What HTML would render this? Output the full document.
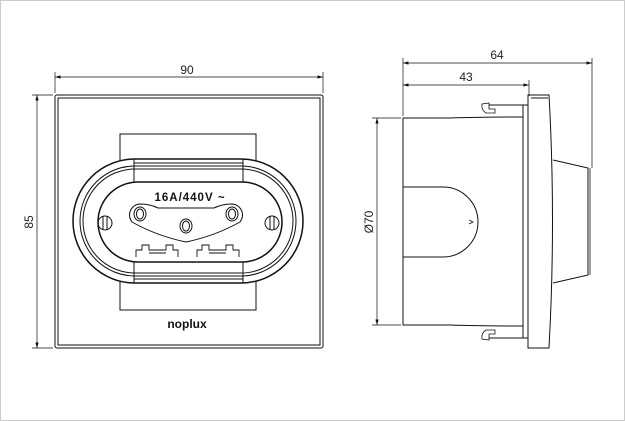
<!DOCTYPE html>
<html><head><style>body{margin:0;background:#fff}svg{display:block}</style></head><body>
<svg width="625" height="421" viewBox="0 0 625 421" xmlns="http://www.w3.org/2000/svg" fill="none" stroke="#111" stroke-width="1">
<defs><marker id="a" viewBox="0 0 10 6" refX="10" refY="3" markerWidth="8" markerHeight="5" orient="auto-start-reverse"><path d="M0,0L10,3L0,6z" fill="#111" stroke="none"/></marker></defs>
<rect x="0.5" y="0.5" width="624" height="420" stroke="#ccc"/>
<line x1="55" y1="72" x2="55" y2="93" stroke-width="0.7"/>
<line x1="323" y1="72" x2="323" y2="93" stroke-width="0.7"/>
<line x1="55" y1="77" x2="323" y2="77" stroke-width="0.7" marker-start="url(#a)" marker-end="url(#a)"/>
<text x="187" y="74" font-family="Liberation Sans" font-size="12" fill="#222" stroke="none" text-anchor="middle">90</text>
<line x1="32" y1="95" x2="53" y2="95" stroke-width="0.7"/>
<line x1="32" y1="348" x2="53" y2="348" stroke-width="0.7"/>
<line x1="37" y1="95" x2="37" y2="348" stroke-width="0.7" marker-start="url(#a)" marker-end="url(#a)"/>
<text transform="translate(33,222) rotate(-90)" font-family="Liberation Sans" font-size="12" fill="#222" stroke="none" text-anchor="middle">85</text>
<rect x="55" y="95" width="268" height="253" rx="2"/>
<rect x="58" y="98" width="262" height="247"/>
<rect x="120" y="134" width="136" height="176"/>
<rect x="73" y="159" width="230" height="124" rx="62" fill="#fff" stroke-width="1.5"/>
<rect x="80" y="166" width="216" height="110" rx="55"/>
<rect x="83" y="169" width="210" height="104" rx="52"/>
<rect x="98" y="182" width="184" height="80" rx="40" stroke-width="1.5"/>
<line x1="134" y1="159" x2="134" y2="182"/><line x1="243" y1="159" x2="243" y2="182"/>
<line x1="134" y1="262" x2="134" y2="283"/><line x1="243" y1="262" x2="243" y2="283"/>
<line x1="134" y1="163" x2="243" y2="163"/><line x1="134" y1="279" x2="243" y2="279"/>
<text x="190" y="201" font-family="Liberation Sans" font-weight="bold" font-size="11.5" letter-spacing="1" fill="#111" stroke="none" text-anchor="middle">16A/440V ~</text>
<circle cx="105" cy="223" r="7"/><line x1="103" y1="216" x2="103" y2="230"/><line x1="107" y1="216" x2="107" y2="230"/>
<circle cx="272" cy="223" r="7"/><line x1="270" y1="216" x2="270" y2="230"/><line x1="274" y1="216" x2="274" y2="230"/>
<path d="M140,204 Q150,204 158,208 L214,208 Q222,204 232,204 A11,11 0 0 1 240,222 Q215,236 186,242 Q157,236 132,222 A11,11 0 0 1 140,204 Z"/>
<ellipse cx="140" cy="214" rx="6" ry="7"/><ellipse cx="140" cy="214" rx="3.5" ry="5"/>
<ellipse cx="232" cy="214" rx="6" ry="7"/><ellipse cx="232" cy="214" rx="3.5" ry="5"/>
<ellipse cx="186" cy="226" rx="6" ry="7"/><ellipse cx="186" cy="226" rx="3.5" ry="5"/>
<g stroke-width="0.9">
<path d="M136,257 V250 H142 V245 H149 V250 H166 V245 H173 V250 H178 V257"/>
<path d="M197,257 V250 H202 V245 H209 V250 H226 V245 H233 V250 H239 V257"/>
<line x1="149" y1="253" x2="166" y2="253"/><line x1="209" y1="253" x2="226" y2="253"/>
</g>
<text x="187" y="328" font-family="Liberation Sans" font-weight="bold" font-size="12" fill="#111" stroke="none" text-anchor="middle">noplux</text>
<line x1="403" y1="58" x2="403" y2="116" stroke-width="0.7"/>
<line x1="592" y1="58" x2="592" y2="168" stroke-width="0.7"/>
<line x1="529" y1="80" x2="529" y2="96" stroke-width="0.7"/>
<line x1="403" y1="63" x2="592" y2="63" stroke-width="0.7" marker-start="url(#a)" marker-end="url(#a)"/>
<line x1="403" y1="85" x2="529" y2="85" stroke-width="0.7" marker-start="url(#a)" marker-end="url(#a)"/>
<text x="497" y="59" font-family="Liberation Sans" font-size="12" fill="#222" stroke="none" text-anchor="middle">64</text>
<text x="466" y="81" font-family="Liberation Sans" font-size="12" fill="#222" stroke="none" text-anchor="middle">43</text>
<line x1="372" y1="118" x2="401" y2="118" stroke-width="0.7"/>
<line x1="372" y1="325" x2="401" y2="325" stroke-width="0.7"/>
<line x1="377" y1="118" x2="377" y2="325" stroke-width="0.7" marker-start="url(#a)" marker-end="url(#a)"/>
<text transform="translate(373,222) rotate(-90)" font-family="Liberation Sans" font-size="12" fill="#222" stroke="none" text-anchor="middle">Ø70</text>
<path d="M403,118 L450,118 Q480,117 523,117 V326 Q480,326 450,325 L403,325 Z"/>
<path d="M403,187 H443 A35,35 0 0 1 443,257 H403"/>
<path d="M469,220 L473,222 L469,224" stroke-width="0.8"/>
<rect x="523" y="105" width="5" height="233"/>
<path d="M489,105 H523 M489,338 H523"/>
<path d="M482,104 Q481,110 486,113 H495 V109 H489 V103 Z" stroke-width="0.8"/>
<path d="M482,339 Q481,333 486,330 H495 V334 H489 V340 Z" stroke-width="0.8"/>
<path d="M528,95 H549 Q556,220 549,348 H528 Z"/>
<path d="M531,98 H548"/>
<path d="M553,160 L588,168 V275 L553,283" />
<line x1="590" y1="168" x2="590" y2="275" stroke-width="0.8"/>
</svg>
</body></html>
